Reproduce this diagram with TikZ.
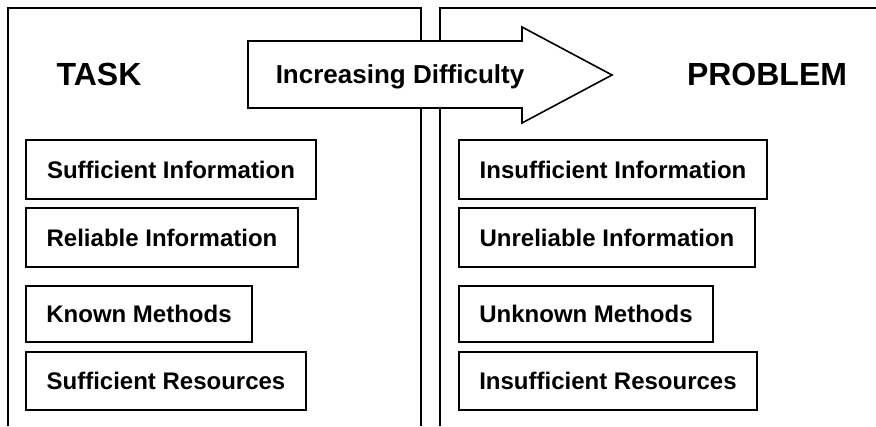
\documentclass[tikz,border=0pt]{standalone}
\usepackage{fontspec}
\setmainfont{Liberation Sans}
\begin{document}
\begin{tikzpicture}[x=0.75pt,y=-0.75pt,
  panel/.style={line width=1.5pt},
  heading/.style={font=\fontsize{24}{28}\selectfont\bfseries, inner sep=0pt},
  cell/.style={draw, line width=1.2pt, fill=white, inner sep=0pt,
    font=\fontsize{18}{21}\selectfont\bfseries},
  bigarrow/.style={draw, line width=1.2pt, fill=white, line join=miter},
  arrowlabel/.style={font=\fontsize{19.5}{23}\selectfont\bfseries, inner sep=0pt, anchor=base}]
% corner coordinates in pixels, origin top left
\newcommand\cellbox[6]{%
  \node[cell, minimum width={(#4-#2)*0.75pt}, minimum height={(#5-#3)*0.75pt}]
    (#1) at ({(#2+#4)/2},{(#3+#5)/2}) {#6};}
\useasboundingbox (0,0) rectangle (876,426);
\clip (0,0) rectangle (876,426);
\fill[white] (0,0) rectangle (876,426);

% the two panels, open towards the page edges
\draw[panel] (8,426) -- (8,8) -- (421,8) -- (421,426);
\draw[panel] (440,426) -- (440,8) -- (876,8);

% headings
\node[heading] (task) at (99,74) {TASK};
\node[heading] (problem) at (767,74) {PROBLEM};

% block arrow between the headings
\coordinate (atail) at (248,41);
\draw[bigarrow] (atail) -- (522,41) -- (522,27) -- (612,75) -- (522,123)
  -- (522,108) -- (248,108) -- cycle;
\node[arrowlabel] (difficulty) at (400,83) {Increasing Difficulty};

% task column
\cellbox{l1}{26}{140}{316}{199}{Sufficient Information}
\cellbox{l2}{26}{208}{298}{267}{Reliable Information}
\cellbox{l3}{26}{286}{252}{342}{Known Methods}
\cellbox{l4}{26}{352}{306}{410}{Sufficient Resources}

% problem column
\cellbox{r1}{459}{140}{767}{199}{Insufficient Information}
\cellbox{r2}{459}{208}{755}{267}{Unreliable Information}
\cellbox{r3}{459}{286}{713}{342}{Unknown Methods}
\cellbox{r4}{459}{352}{757}{410}{Insufficient Resources}
\end{tikzpicture}
\end{document}
